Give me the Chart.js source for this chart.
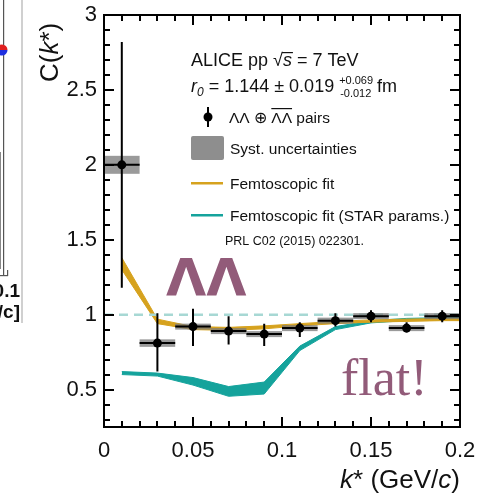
<!DOCTYPE html>
<html><head><meta charset="utf-8">
<script src="https://cdn.jsdelivr.net/npm/chart.js@4.4.1/dist/chart.umd.min.js"></script>
<style>html,body{margin:0;padding:0;background:#fff;overflow:hidden}canvas{display:block}</style>
</head><body>
<canvas id="c" width="484" height="495"></canvas>
<script>
// ---- data ----
const binCenters = [0.01, 0.03, 0.05, 0.07, 0.09, 0.11, 0.13, 0.15, 0.17, 0.19];
const binHalfWidth = 0.01;
const cValues   = [2.00, 0.81, 0.92, 0.89, 0.87, 0.91, 0.96, 0.99, 0.91, 0.99];
const statLow   = [1.18, 0.62, 0.79, 0.80, 0.79, 0.85, 0.92, 0.95, 0.88, 0.95];
const statHigh  = [2.82, 1.01, 1.04, 0.99, 0.94, 0.95, 1.01, 1.03, 0.95, 1.03];
const systHalf  = [0.06, 0.025, 0.02, 0.02, 0.02, 0.02, 0.02, 0.02, 0.02, 0.02];

const fitK       = [0.01, 0.03, 0.05, 0.07, 0.09, 0.11, 0.13, 0.15, 0.17, 0.19, 0.20];
const fitUpper   = [1.38, 0.97, 0.92, 0.915, 0.925, 0.94, 0.955, 0.965, 0.97, 0.975, 0.975];
const fitLower   = [1.30, 0.94, 0.90, 0.895, 0.905, 0.925, 0.94, 0.95, 0.955, 0.96, 0.96];
const starUpper  = [0.62, 0.61, 0.58, 0.52, 0.55, 0.79, 0.92, 0.96, 0.975, 0.98, 0.98];
const starLower  = [0.60, 0.59, 0.53, 0.455, 0.47, 0.76, 0.90, 0.945, 0.96, 0.965, 0.97];

const refLevel = 1;
const xTicks = [0, 0.05, 0.1, 0.15, 0.2];
const xTickLabels = ['0', '0.05', '0.1', '0.15', '0.2'];
const yTicks = [0.5, 1, 1.5, 2, 2.5, 3];
const yTickLabels = ['0.5', '1', '1.5', '2', '2.5', '3'];
const xMinorStep = 0.01;
const yMinorStep = 0.1;

// ---- styles ----
const GOLD = '#D6A21E', TEAL = '#15A39C', DASH = '#A7D8D4', PURPLE = '#925B79', SYST = 'rgba(120,120,120,0.75)';
const SANS = "'Liberation Sans', Arial, sans-serif";

function pts(xs, ys) { return xs.map((x, i) => ({ x: x, y: ys[i] })); }

function drawRuns(ctx, x, y, runs) {
  for (const r of runs) {
    ctx.font = r.f;
    ctx.fillText(r.t, x, y + (r.dy || 0));
    x += ctx.measureText(r.t).width;
  }
  return x;
}

const errorPlugin = {
  id: 'errs',
  afterDatasetDraw(chart, args) {
    if (args.index !== 1) return;
    const ctx = chart.ctx, xs = chart.scales.x, ys = chart.scales.y;
    ctx.save();
    ctx.fillStyle = SYST;
    binCenters.forEach((k, i) => {
      const x0 = xs.getPixelForValue(k - binHalfWidth), x1 = xs.getPixelForValue(k + binHalfWidth);
      const y0 = ys.getPixelForValue(cValues[i] + systHalf[i]), y1 = ys.getPixelForValue(cValues[i] - systHalf[i]);
      ctx.fillRect(x0, y0, x1 - x0, y1 - y0);
    });
    ctx.strokeStyle = '#000'; ctx.lineWidth = 2;
    binCenters.forEach((k, i) => {
      const px = xs.getPixelForValue(k), py = ys.getPixelForValue(cValues[i]);
      const x0 = xs.getPixelForValue(k - binHalfWidth), x1 = xs.getPixelForValue(k + binHalfWidth);
      ctx.beginPath();
      ctx.moveTo(px, ys.getPixelForValue(statHigh[i]));
      ctx.lineTo(px, ys.getPixelForValue(statLow[i]));
      ctx.moveTo(x0, py); ctx.lineTo(x1, py);
      ctx.stroke();
    });
    ctx.restore();
  }
};

const framePlugin = {
  id: 'frame',
  afterDraw(chart) {
    const ctx = chart.ctx, a = chart.chartArea, xs = chart.scales.x, ys = chart.scales.y;
    ctx.save();
    // inward tick marks on all four sides
    ctx.fillStyle = '#000';
    const nx = Math.round((xs.max - xs.min) / xMinorStep);
    for (let j = 0; j <= nx; j++) {
      const px = Math.round(xs.getPixelForValue(xs.min + j * xMinorStep));
      const L = (j % 5 === 0) ? 10 : 6;
      ctx.fillRect(px - 1, a.bottom - L, 2, L);
      ctx.fillRect(px - 1, a.top, 2, L);
    }
    const y0 = Math.ceil(ys.min / yMinorStep - 1e-9), y1 = Math.floor(ys.max / yMinorStep + 1e-9);
    for (let j = y0; j <= y1; j++) {
      const py = Math.round(ys.getPixelForValue(j * yMinorStep));
      const L = (j % 5 === 0) ? 10 : 6;
      ctx.fillRect(a.left, py - 1, L, 2);
      ctx.fillRect(a.right - L, py - 1, L, 2);
    }
    // frame
    const l = Math.round(a.left), t = Math.round(a.top), r = Math.round(a.right), b = Math.round(a.bottom);
    ctx.fillRect(l - 1, t - 1, r - l + 2, 2);
    ctx.fillRect(l - 1, b - 1, r - l + 2, 2);
    ctx.fillRect(l - 1, t - 1, 2, b - t + 2);
    ctx.fillRect(r - 1, t - 1, 2, b - t + 2);

    // axis titles
    ctx.fillStyle = '#111';
    ctx.textBaseline = 'alphabetic';
    ctx.textAlign = 'left';
    const tf = '26px ' + SANS, tfi = 'italic 26px ' + SANS;
    const xruns = [{ t: 'k', f: tfi }, { t: '* (GeV/', f: tf }, { t: 'c', f: tfi }, { t: ')', f: tf }];
    let w = 0; xruns.forEach(q => { ctx.font = q.f; w += ctx.measureText(q.t).width; });
    drawRuns(ctx, a.right - w, 488, xruns);
    ctx.save();
    ctx.translate(58, 82); ctx.rotate(-Math.PI / 2);
    drawRuns(ctx, 0, 0, [{ t: 'C(', f: tf }, { t: 'k', f: tfi }, { t: '*)', f: tf }]);
    ctx.restore();

    // ---- legend block ----
    const f18 = '18px ' + SANS, f18i = 'italic 18px ' + SANS, f16 = '15.5px ' + SANS;
    let x = drawRuns(ctx, 191, 66, [{ t: 'ALICE pp ', f: f18 }, { t: '\u221A', f: f18 }]);
    ctx.font = f18i; const sw = ctx.measureText('s').width;
    ctx.fillText('s', x, 66);
    ctx.fillRect(x - 1, 52, sw + 2, 1.2);
    drawRuns(ctx, x + sw, 66, [{ t: ' = 7 TeV', f: f18 }]);

    x = drawRuns(ctx, 191, 92, [{ t: 'r', f: f18i }, { t: '0', f: 'italic 12px ' + SANS, dy: 4 }, { t: ' = 1.144 \u00B1 0.019 ', f: f18 }]);
    ctx.font = '11px ' + SANS;
    ctx.fillText('+0.069', x, 84);
    ctx.fillText('-0.012', x + 1, 97);
    x += ctx.measureText('+0.069').width + 4;
    drawRuns(ctx, x, 92, [{ t: 'fm', f: f18 }]);

    // data marker
    ctx.fillStyle = '#000';
    ctx.fillRect(207, 107, 2, 20);
    ctx.beginPath(); ctx.arc(208, 117, 4.5, 0, Math.PI * 2); ctx.fill();
    ctx.fillStyle = '#111';
    x = drawRuns(ctx, 229, 123, [{ t: '\u039B\u039B \u2295 ', f: f16 }]);
    ctx.font = f16; const lw = ctx.measureText('\u039B\u039B').width;
    ctx.fillText('\u039B\u039B', x, 123);
    ctx.fillRect(x, 108, lw, 1.2);
    drawRuns(ctx, x + lw, 123, [{ t: ' pairs', f: f16 }]);

    ctx.fillStyle = '#8E8E8E';
    ctx.beginPath(); if (ctx.roundRect) ctx.roundRect(191, 136, 33, 24, 2); else ctx.rect(191, 136, 33, 24); ctx.fill();
    ctx.fillStyle = '#111';
    drawRuns(ctx, 230, 154, [{ t: 'Syst. uncertainties', f: f16 }]);

    ctx.fillStyle = GOLD; ctx.fillRect(191, 182, 32, 2.5);
    ctx.fillStyle = '#111';
    drawRuns(ctx, 230, 189, [{ t: 'Femtoscopic fit', f: f16 }]);
    ctx.fillStyle = TEAL; ctx.fillRect(191, 214, 32, 2.5);
    ctx.fillStyle = '#111';
    drawRuns(ctx, 230, 221, [{ t: 'Femtoscopic fit (STAR params.)', f: f16 }]);
    drawRuns(ctx, 225, 245, [{ t: 'PRL C02 (2015) 022301.', f: '12.5px ' + SANS }]);

    // ---- slide annotations ----
    ctx.fillStyle = PURPLE;
    ctx.font = "bold 52px 'DejaVu Sans', sans-serif";
    ctx.fillText('\u039B\u039B', 166, 296);
    ctx.font = "52px 'Liberation Serif', serif";
    ctx.fillText('flat!', 341, 395);

    // ---- fragment of neighbouring slide content (left edge) ----
    ctx.fillStyle = '#D0D0D0'; ctx.fillRect(21, 0, 2, 323);
    ctx.fillStyle = '#555';
    ctx.fillRect(3, 0, 1.2, 276); ctx.fillRect(0, 275, 8, 1.2); ctx.fillRect(7, 270, 1.2, 6);
    ctx.fillStyle = '#888';
    ctx.fillRect(0, 152, 1, 116); ctx.fillRect(0, 268, 1, 1);
    ctx.fillStyle = '#E02020'; ctx.beginPath(); ctx.arc(2, 50, 5.5, Math.PI, 0); ctx.fill();
    ctx.fillStyle = '#1E2FE0'; ctx.beginPath(); ctx.arc(2, 50, 5.5, 0, Math.PI); ctx.fill();
    ctx.fillStyle = '#111'; ctx.textAlign = 'right';
    ctx.font = 'bold 19px ' + SANS;
    ctx.fillText('0.1', 20, 297);
    ctx.fillText('/c]', 20, 318);
    ctx.restore();
  }
};

const tickFont = { family: SANS, size: 22 };

new Chart(document.getElementById('c'), {
  type: 'line',
  data: {
    datasets: [
      { label: 'data', data: pts(binCenters, cValues), showLine: false, pointRadius: 4.5,
        pointBackgroundColor: '#000', pointBorderColor: '#000', pointBorderWidth: 0 },
      { label: 'ref', data: [{ x: 0, y: refLevel }, { x: 0.2, y: refLevel }], borderColor: DASH,
        borderWidth: 2.5, borderDash: [9, 6], pointRadius: 0, fill: false },
      { label: 'fitU', data: pts(fitK, fitUpper), borderColor: GOLD, borderWidth: 1, pointRadius: 0, fill: false, tension: 0 },
      { label: 'fitL', data: pts(fitK, fitLower), borderColor: GOLD, borderWidth: 1, pointRadius: 0,
        fill: '-1', backgroundColor: GOLD, tension: 0 },
      { label: 'starU', data: pts(fitK, starUpper), borderColor: TEAL, borderWidth: 1, pointRadius: 0, fill: false, tension: 0 },
      { label: 'starL', data: pts(fitK, starLower), borderColor: TEAL, borderWidth: 1, pointRadius: 0,
        fill: '-1', backgroundColor: TEAL, tension: 0 }
    ]
  },
  options: {
    responsive: false, animation: false,
    layout: { padding: { left: 0, right: 24, top: 15, bottom: 0 } },
    plugins: { legend: { display: false }, tooltip: { enabled: false } },
    scales: {
      x: {
        type: 'linear', min: 0, max: 0.2,
        afterBuildTicks: s => { s.ticks = xTicks.map(v => ({ value: v })); },
        afterFit: s => { s.height = 68; s.paddingLeft = 0; s.paddingRight = 0; },
        grid: { display: false, drawTicks: false }, border: { display: false },
        ticks: { callback: (v, i) => xTickLabels[i], font: tickFont, color: '#111', padding: 11,
          maxRotation: 0, autoSkip: false }
      },
      y: {
        type: 'linear', min: 0.25, max: 3,
        afterBuildTicks: s => { s.ticks = yTicks.map(v => ({ value: v })); },
        afterFit: s => { s.width = 104; s.paddingTop = 0; s.paddingBottom = 0; },
        grid: { display: false, drawTicks: false }, border: { display: false },
        ticks: { callback: (v, i) => yTickLabels[i], font: tickFont, color: '#111', padding: 7, autoSkip: false }
      }
    }
  },
  plugins: [errorPlugin, framePlugin]
});
</script>
</body></html>
